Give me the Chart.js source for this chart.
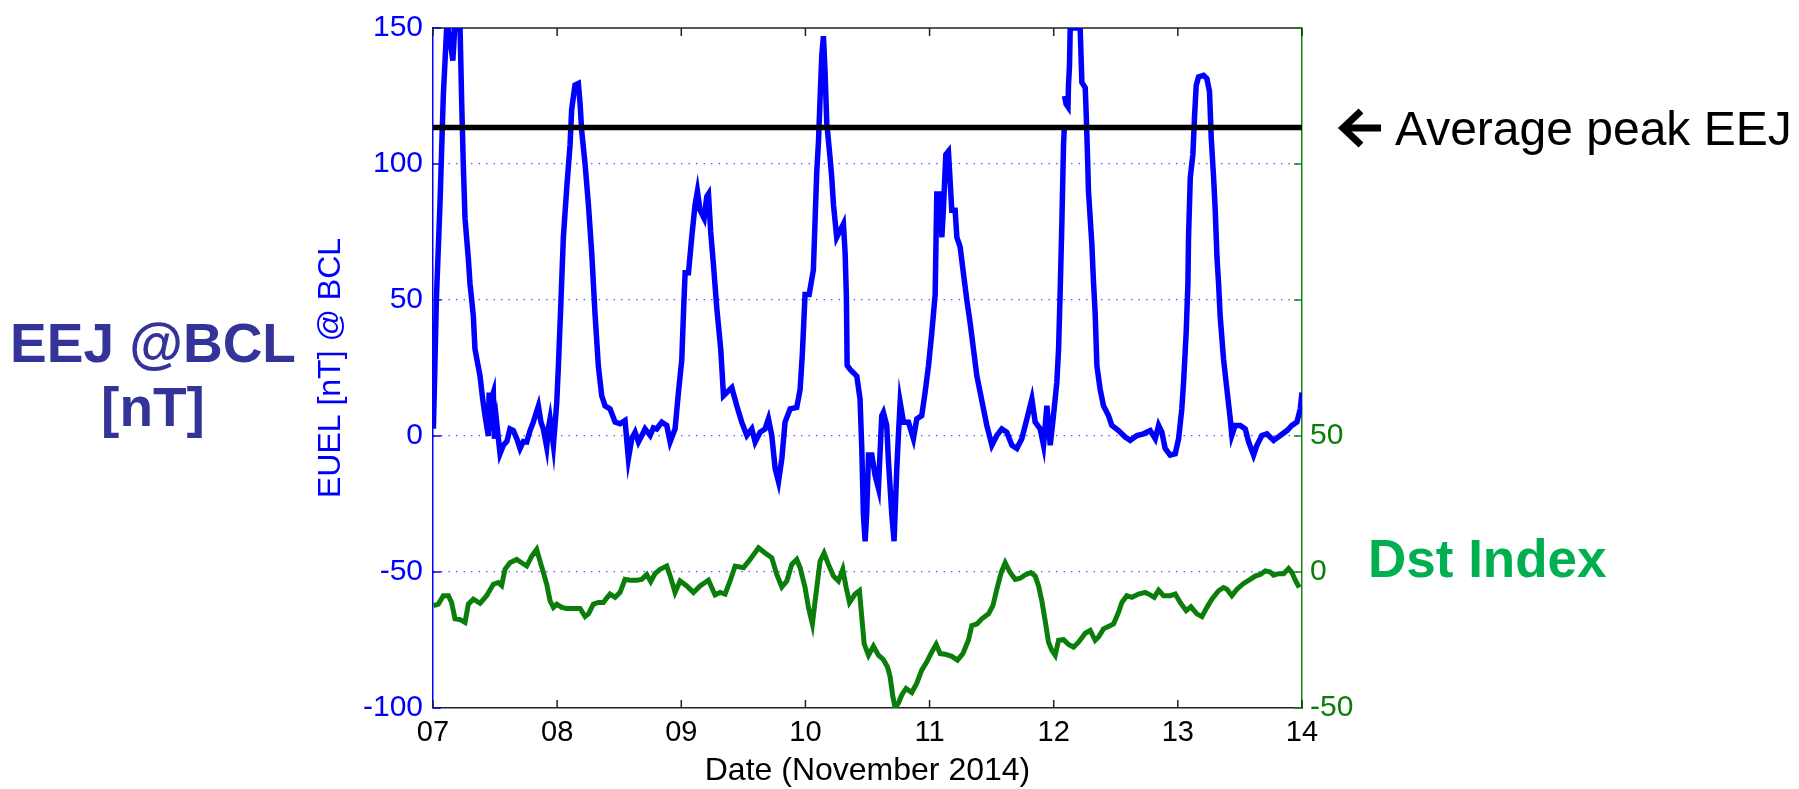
<!DOCTYPE html>
<html>
<head>
<meta charset="utf-8">
<title>EEJ @BCL and Dst index, November 2014</title>
<script src="https://cdn.jsdelivr.net/npm/chart.js@4.4.0/dist/chart.umd.min.js"></script>
<style>
  html, body { margin: 0; padding: 0; background: #fff; }
  #wrap { width: 1799px; height: 789px; }
</style>
</head>
<body>
<div id="wrap"><canvas id="chart"></canvas></div>
<script>
// x axis: days of November 2014
const dayLabels = ['07', '08', '09', '10', '11', '12', '13', '14']
const eejTicks = [-100, -50, 0, 50, 100, 150]
const dstTickLabels = [-50, 0, 50]

// EEJ (EUEL @ BCL, nT), null = data gap
const eejDays = [
  7.003, 7.015, 7.027, 7.056, 7.083, 7.11, 7.124, 7.16, 7.175, 7.218, 7.231, 7.244, 7.258, 7.285, 7.298,
  7.312, 7.325, 7.338, 7.379, 7.4, 7.419, 7.446, 7.452, 7.462, 7.472, 7.486, 7.495, 7.513, 7.54, 7.567,
  7.595, 7.62, 7.647, 7.675, 7.701, 7.728, 7.755, 7.782, 7.808, 7.849, 7.87, 7.889, 7.916, 7.93, 7.943,
  7.97, 7.997, 8.01, 8.031, 8.05, 8.077, 8.104, 8.117, 8.144, 8.171, 8.185, 8.198, 8.225, 8.252, 8.279,
  8.292, 8.305, 8.332, 8.359, 8.386, 8.426, 8.467, 8.507, 8.547, 8.574, 8.601, 8.628, 8.655, 8.68, 8.708,
  8.749, 8.775, 8.802, 8.843, 8.883, 8.91, 8.95, 8.977, 9.004, 9.02, 9.031, 9.058, 9.084, 9.111, 9.13,
  9.151, 9.184, 9.205, 9.219, 9.237, 9.259, 9.286, 9.318, 9.34, 9.366, 9.407, 9.447, 9.487, 9.528, 9.568,
  9.595, 9.635, 9.675, 9.702, 9.729, 9.756, 9.783, 9.81, 9.836, 9.877, 9.93, 9.957, 9.975, 9.997, 10.03,
  10.064, 10.091, 10.105, 10.118, 10.132, 10.145, 10.158, 10.172, 10.199, 10.212, 10.226, 10.252, 10.279, 10.306, 10.32,
  10.33, 10.336, 10.36, 10.414, 10.44, 10.454, 10.467, 10.481, 10.494, 10.508, 10.535, 10.561, 10.588, 10.615, 10.628,
  10.655, 10.669, 10.696, 10.714, 10.736, 10.749, 10.763, 10.79, 10.83, 10.87, 10.897, 10.937, 10.964, 10.991, 11.018,
  11.045, 11.058, 11.085, 11.099, 11.112, 11.131, 11.152, 11.179, 11.206, 11.22, 11.246, 11.273, 11.3, 11.327, 11.354,
  11.381, 11.408, 11.434, 11.461, 11.502, 11.542, 11.582, 11.622, 11.663, 11.703, 11.743, 11.784, 11.824, 11.851, 11.891,
  11.918, 11.945, 11.972, 11.998, 12.025, 12.039, 12.052, 12.066, 12.079, 12.085, 12.086, 12.087, 12.1, 12.115, 12.119,
  12.127, 12.133, 12.213, 12.227, 12.254, 12.262, 12.272, 12.28, 12.294, 12.307, 12.32, 12.334, 12.348, 12.374, 12.401,
  12.441, 12.468, 12.522, 12.576, 12.616, 12.67, 12.724, 12.777, 12.818, 12.845, 12.871, 12.898, 12.938, 12.979, 13.006,
  13.032, 13.046, 13.067, 13.081, 13.086, 13.1, 13.121, 13.135, 13.148, 13.167, 13.207, 13.234, 13.255, 13.269, 13.288,
  13.301, 13.315, 13.328, 13.341, 13.368, 13.395, 13.422, 13.435, 13.462, 13.502, 13.543, 13.57, 13.61, 13.637, 13.677,
  13.717, 13.771, 13.825, 13.879, 13.919, 13.959, 13.986, 14.0
]
const eejValues = [
  2.7, 25, 50, 85, 125, 150, 150, 138, 150, 150, 123, 100, 80, 65, 56,
  50, 44, 32, 22, 13.6, 7.5, 0, 16, 2, 14, 16, -1, 5, -6.5, -3.4,
  -2, 2.6, 2, -1, -4.6, -2, -2.2, 2, 5.1, 11, 5, 2.6, -4, 3, 6.3,
  -3.4, 12.4, 25.7, 50, 73, 91, 107, 120, 129, 129.6, 122, 112, 100, 85, 67,
  56, 45, 25.7, 14.8, 11.1, 10, 5.1, 4.5, 5.7, -8.3, -1, 1.4, -2.2, 0, 2.6,
  0.2, 3, 2.6, 5.1, 3.9, -2.2, 2.6, 16, 28, 48, 60, 60, 73, 85, 90,
  83, 80, 88, 89, 75, 63, 47, 31.8, 14.8, 16, 17.8, 11.1, 5.1, 0.2, 2.6,
  -2.2, 1.4, 2.6, 6.3, 0.2, -12, -16.8, -8.3, 5.1, 10, 10.5, 17, 30, 52, 52,
  61, 97, 108, 124, 140, 147, 134, 115, 102, 95, 85, 73, 75.5, 78, 67,
  51, 26, 24.5, 22, 13.6, -4.6, -28.9, -38.7, -28, -7, -7, -14.4, -19.2, 7.5, 8.7,
  3.9, -9.5, -28.9, -38.7, -12, 0.2, 12.4, 5.1, 5.1, -1, 6.3, 7.5, 16, 25.7, 38,
  52, 89, 89, 73, 84, 103.5, 104.7, 83, 83, 73, 69.5, 59.7, 50, 41.5, 31.8,
  22, 16, 10, 3.9, -3.4, 0.2, 2.6, 1.4, -3.4, -4.6, -1, 6.3, 13.6, 5.1, 2.6,
  -3.4, 11.1, -3.4, 7.5, 19.7, 31.8, 53, 79, 107, 113, null, 125, 122, 121, 129,
  136, 150, 150, 130, 128, 118, 103.5, 90, 80, 70.7, 57, 45, 25.7, 17.2, 11.1,
  7.5, 3.9, 2, -0.4, -1.6, 0.2, 0.8, 2, -1, 3.9, 1.4, -4.6, -7, -6.5, -1,
  10, 19.7, 38, 56, 73, 95, 103.5, 118, 129, 132, 132.6, 131.4, 126.6, 109.5, 95,
  83, 65.8, 56, 44, 28.2, 17.2, 6.3, 0.2, 3.9, 3.9, 2.6, -2.2, -7, -3.4, 0.2,
  0.8, -1.6, 0.2, 2, 3.9, 5.1, 10, 16
]

// Dst index (nT, right axis)
const dstDays = [
  7.003, 7.043, 7.083, 7.124, 7.15, 7.177, 7.218, 7.258, 7.285, 7.325, 7.379, 7.432, 7.486, 7.526, 7.553,
  7.58, 7.62, 7.674, 7.714, 7.755, 7.795, 7.835, 7.862, 7.889, 7.916, 7.943, 7.97, 7.997, 8.037, 8.077,
  8.131, 8.185, 8.225, 8.252, 8.292, 8.332, 8.373, 8.399, 8.426, 8.467, 8.507, 8.547, 8.587, 8.641, 8.681,
  8.722, 8.754, 8.789, 8.829, 8.883, 8.915, 8.95, 8.99, 9.044, 9.098, 9.151, 9.219, 9.272, 9.313, 9.353,
  9.393, 9.434, 9.501, 9.554, 9.622, 9.675, 9.729, 9.769, 9.81, 9.85, 9.89, 9.93, 9.957, 9.997, 10.024,
  10.056, 10.078, 10.118, 10.15, 10.185, 10.226, 10.266, 10.301, 10.328, 10.355, 10.4, 10.435, 10.454, 10.473, 10.508,
  10.548, 10.588, 10.628, 10.661, 10.682, 10.704, 10.723, 10.749, 10.776, 10.811, 10.857, 10.897, 10.937, 10.978, 11.018,
  11.053, 11.085, 11.125, 11.179, 11.225, 11.268, 11.313, 11.34, 11.381, 11.421, 11.475, 11.51, 11.542, 11.577, 11.609,
  11.649, 11.69, 11.73, 11.77, 11.816, 11.851, 11.878, 11.904, 11.931, 11.958, 11.985, 12.012, 12.039, 12.079, 12.119,
  12.16, 12.2, 12.254, 12.294, 12.334, 12.361, 12.401, 12.441, 12.482, 12.522, 12.549, 12.589, 12.63, 12.683, 12.737,
  12.777, 12.81, 12.845, 12.885, 12.939, 12.979, 13.019, 13.067, 13.105, 13.153, 13.194, 13.234, 13.274, 13.328, 13.368,
  13.395, 13.435, 13.476, 13.53, 13.583, 13.623, 13.664, 13.704, 13.744, 13.771, 13.811, 13.852, 13.892, 13.919, 13.946,
  13.978
]
const dstValues = [
  -12.4, -11.8, -8.7, -8.7, -11.2, -17.2, -17.5, -18.5, -11.8, -10, -11.5, -8.7, -4.5, -3.9, -5,
  1, 3.4, 4.6, 3.4, 2.2, 5.8, 8.3, 4, -0.2, -4.5, -10.6, -13, -11.8, -13, -13.4,
  -13.4, -13.4, -16.4, -15.4, -11.8, -11.2, -11.2, -9.6, -8.1, -9.3, -7.5, -2.7, -3, -3, -2.7,
  -0.9, -3.5, -0.6, 1, 2.2, -2.1, -7.5, -3.3, -5.1, -7.5, -5.1, -3, -8.4, -7.5, -8.1,
  -3.3, 2.2, 1.6, 4.6, 8.9, 7, 5.2, -0.9, -5.5, -3.3, 2.8, 4.6, 1.6, -5.7, -13,
  -19.1, -10.6, 4, 7, 2.8, -1.5, -3.3, 1, -5.7, -11.2, -8.1, -6.9, -16.6, -26.4, -30.6,
  -27.3, -30.6, -32.2, -34.9, -38.5, -45.8, -50, -48.2, -45.2, -42.8, -44.3, -40.9, -36.1, -33, -29.4,
  -26.6, -30, -30.2, -31, -32.4, -30, -25.1, -19.7, -19.1, -17.2, -15.4, -12.4, -6.3, -0.2, 3.4,
  -0.2, -2.7, -2.3, -1.1, -0.2, -1.5, -5.1, -10.6, -17.9, -25.8, -28.8, -30.6, -25.1, -24.9, -26.6,
  -27.6, -25.8, -22.5, -21.5, -25.1, -23.9, -20.9, -20, -19.1, -14.8, -11.2, -8.7, -9.3, -8.1, -7.5,
  -8.4, -9.3, -6.7, -8.7, -8.7, -8.1, -11.2, -14.2, -12.8, -15.4, -16.4, -13, -10, -6.9, -5.7,
  -6.3, -8.7, -6.3, -4.2, -2.7, -1.5, -0.9, 0.4, 0, -1.2, -0.6, -0.6, 1.3, -0.2, -3,
  -5.7
]

// average peak EEJ level (nT)
const avgPeakDays = [7, 14]
const avgPeakValues = [113.4, 113.4]

const FONT = "'Liberation Sans', Arial, sans-serif"
Chart.defaults.font.family = FONT

function toPoints(xs, ys) {
  return xs.map((x, i) => ({ x: x, y: ys[i] }))
}

// MATLAB style box: top border, inward ticks, side captions
const decor = {
  id: 'decor',
  beforeDatasetsDraw(chart) {
    const ctx = chart.ctx
    const a = chart.chartArea
    const sx = chart.scales.x, sy = chart.scales.y, sy2 = chart.scales.y2
    ctx.save()
    ctx.lineWidth = 1.5
    ctx.strokeStyle = '#222'
    ctx.beginPath()
    ctx.moveTo(a.left, a.top)
    ctx.lineTo(a.right, a.top)
    ctx.stroke()
    sx.ticks.forEach(t => {
      const px = sx.getPixelForValue(t.value)
      ctx.beginPath()
      ctx.moveTo(px, a.top); ctx.lineTo(px, a.top + 8)
      ctx.moveTo(px, a.bottom); ctx.lineTo(px, a.bottom - 8)
      ctx.stroke()
    })
    ctx.strokeStyle = '#0000ff'
    sy.ticks.forEach(t => {
      const py = sy.getPixelForValue(t.value)
      ctx.beginPath(); ctx.moveTo(a.left, py); ctx.lineTo(a.left + 8, py); ctx.stroke()
    })
    ctx.strokeStyle = '#118811'
    sy2.ticks.forEach(t => {
      const py = sy2.getPixelForValue(t.value)
      ctx.beginPath(); ctx.moveTo(a.right, py); ctx.lineTo(a.right - 8, py); ctx.stroke()
    })
    ctx.restore()
  },
  afterDraw(chart) {
    const ctx = chart.ctx
    ctx.save()
    ctx.textBaseline = 'alphabetic'
    ctx.textAlign = 'center'
    ctx.fillStyle = '#333399'
    ctx.font = 'bold 55px ' + FONT
    ctx.fillText('EEJ @BCL', 153, 362)
    ctx.fillText('[nT]', 153, 426)

    ctx.textAlign = 'left'
    ctx.fillStyle = '#00b050'
    ctx.font = 'bold 53px ' + FONT
    ctx.fillText('Dst Index', 1368, 577)

    ctx.fillStyle = '#000'
    ctx.font = '48px ' + FONT
    ctx.fillText('Average peak EEJ', 1395, 145)

    // arrow
    ctx.strokeStyle = '#000'
    ctx.lineWidth = 7
    ctx.lineJoin = 'miter'
    ctx.beginPath()
    ctx.moveTo(1345, 128); ctx.lineTo(1381, 128)
    ctx.stroke()
    ctx.beginPath()
    ctx.moveTo(1361, 111); ctx.lineTo(1343, 128); ctx.lineTo(1361, 145)
    ctx.stroke()
    ctx.restore()
  }
}

new Chart('chart', {
  type: 'line',
  data: {
    datasets: [
      {
        label: 'Average peak EEJ',
        data: toPoints(avgPeakDays, avgPeakValues),
        borderColor: '#000',
        borderWidth: 5.5,
        pointRadius: 0,
        yAxisID: 'y',
        order: 0,
      },
      {
        label: 'EUEL @ BCL',
        data: toPoints(eejDays, eejValues),
        borderColor: '#0000ff',
        borderWidth: 5.5,
        pointRadius: 0,
        spanGaps: false,
        clip: 0,
        yAxisID: 'y',
        order: 1,
      },
      {
        label: 'Dst',
        data: toPoints(dstDays, dstValues),
        borderColor: '#0a7d0a',
        borderWidth: 5,
        pointRadius: 0,
        yAxisID: 'y2',
        order: 2,
      },
    ],
  },
  options: {
    responsive: true,
    maintainAspectRatio: false,
    animation: false,
    layout: { padding: { left: 300, right: 0, top: 22, bottom: 0 } },
    plugins: { legend: { display: false }, tooltip: { enabled: false } },
    scales: {
      x: {
        type: 'linear',
        position: 'bottom',
        min: 7,
        max: 14,
        afterFit: s => { s.height = 81 },
        ticks: {
          stepSize: 1,
          autoSkip: false,
          maxRotation: 0,
          padding: 8,
          color: '#000',
          font: { size: 29 },
          callback: v => dayLabels[Math.round(v) - 7],
        },
        grid: { drawOnChartArea: false, drawTicks: false },
        border: { color: '#222', width: 1.5 },
        title: {
          display: true,
          text: 'Date (November 2014)',
          color: '#000',
          font: { size: 32, lineHeight: 1 },
          padding: { top: 0, bottom: 2 },
        },
      },
      y: {
        position: 'left',
        min: -100,
        max: 150,
        afterFit: s => { s.width = 133 },
        afterBuildTicks: s => { s.ticks = eejTicks.map(v => ({ value: v })) },
        ticks: { padding: 10, color: '#0000ff', font: { size: 30 } },
        grid: {
          drawTicks: false,
          lineWidth: 1.3,
          color: c => (c.tick && c.tick.value > -100 && c.tick.value < 150) ? '#5555ff' : 'rgba(0,0,0,0)',
        },
        border: { color: '#0000ff', width: 1.5, dash: [1.5, 6] },
        title: {
          display: true,
          text: 'EUEL [nT] @ BCL',
          color: '#0000ff',
          font: { size: 32, lineHeight: 1.2 },
          padding: { top: 12, bottom: 0 },
        },
      },
      y2: {
        position: 'right',
        min: -50,
        max: 200,
        afterFit: s => { s.width = 497 },
        ticks: {
          stepSize: 50,
          padding: 8,
          color: '#0a7d0a',
          font: { size: 30 },
          callback: v => dstTickLabels.includes(v) ? String(v) : '',
        },
        grid: { drawOnChartArea: false, drawTicks: false },
        border: { color: '#118811', width: 1.5 },
      },
    },
  },
  plugins: [decor],
})
</script>
</body>
</html>
